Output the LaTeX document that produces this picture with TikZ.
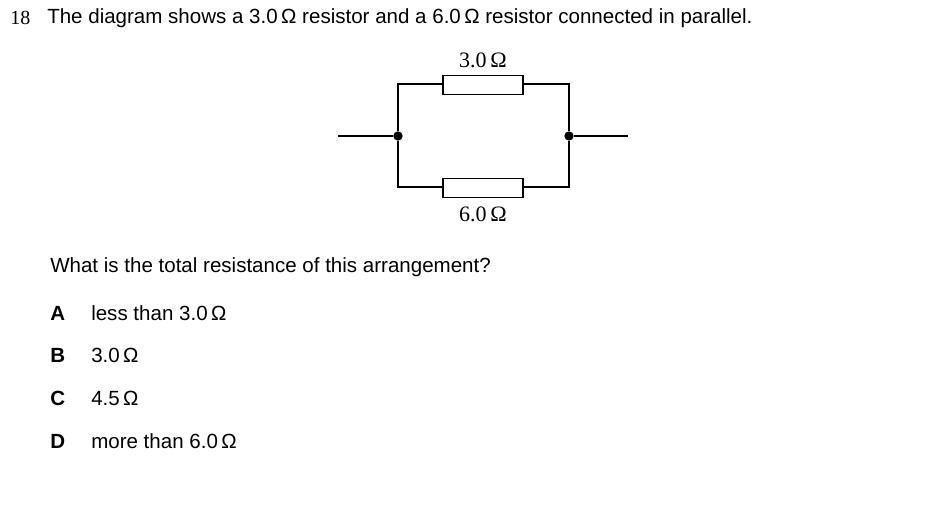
\documentclass[tikz,border=0pt]{standalone}
\usepackage{fontspec}
\setmainfont{Liberation Sans}
\newfontfamily\serifnum{Liberation Serif}
\usetikzlibrary{positioning}
\tikzset{wire/.style={line width=1.2pt},
  res/.style={draw, line width=1.2pt, minimum width=60pt, minimum height=14pt, inner sep=0pt, fill=white},
  dot/.style={circle, fill=black, inner sep=0pt, minimum size=7pt},
  txt/.style={anchor=west, inner sep=0pt, font=\fontsize{15.4}{18}\selectfont},
  lbl/.style={inner sep=0pt, font=\serifnum\fontsize{16.5}{18}\selectfont}}

\begin{document}
\begin{tikzpicture}[x=0.75pt, y=-0.75pt]
\useasboundingbox (0,0) rectangle (940,509);
% heading
\node[lbl, anchor=west, font=\serifnum\fontsize{15}{18}\selectfont] (num) at (10,18) {18};
\node[txt] (head) at (47,18) {The diagram shows a 3.0\,Ω resistor and a 6.0\,Ω resistor connected in parallel.};

% circuit
\coordinate (inL) at (338,136);
\coordinate (inR) at (628,136);
\node[dot] (jL) at (398,136) {};
\node[dot] (jR) at (569,136) {};
\coordinate (tl) at (398,84);
\coordinate (tr) at (569,84);
\coordinate (bl) at (398,187);
\coordinate (br) at (569,187);
\node[res] (R1) at (483,85) {};
\node[res] (R2) at (483,188) {};
\node[lbl] (l1) at (483,60) {3.0\,Ω};
\node[lbl] (l2) at (483,214) {6.0\,Ω};

\draw[wire] (inL) -- (jL);
\draw[wire] (jR) -- (inR);
\draw[wire] (jL) -- (tl) -- (R1.west |- tl);
\draw[wire] (R1.east |- tr) -- (tr) -- (jR);
\draw[wire] (jL) -- (bl) -- (R2.west |- bl);
\draw[wire] (R2.east |- br) -- (br) -- (jR);

% question
\node[txt] (q) at (50,267) {What is the total resistance of this arrangement?};
\node[txt, font=\bfseries\fontsize{15.4}{18}\selectfont] (kA) at (50,313) {A};
\node[txt, font=\bfseries\fontsize{15.4}{18}\selectfont] (kB) at (50,355) {B};
\node[txt, font=\bfseries\fontsize{15.4}{18}\selectfont] (kC) at (50,398) {C};
\node[txt, font=\bfseries\fontsize{15.4}{18}\selectfont] (kD) at (50,441) {D};
\node[txt] (aA) at (91,313) {less than 3.0\,Ω};
\node[txt] (aB) at (91,355) {3.0\,Ω};
\node[txt] (aC) at (91,398) {4.5\,Ω};
\node[txt] (aD) at (91,441) {more than 6.0\,Ω};
\end{tikzpicture}
\end{document}
